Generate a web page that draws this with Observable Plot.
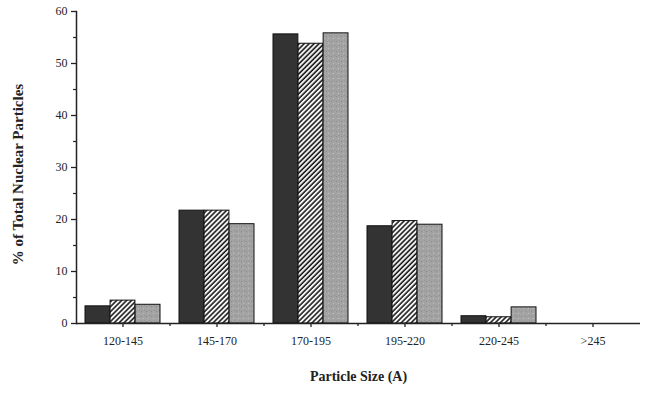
<!DOCTYPE html>
<html>
<head>
<meta charset="utf-8">
<script src="https://cdn.jsdelivr.net/npm/d3@7"></script>
<script src="https://cdn.jsdelivr.net/npm/@observablehq/plot@0.6"></script>
<style>
  html, body { margin: 0; padding: 0; background: #fff; }
</style>
</head>
<body>
<div id="chart"></div>
<script>
const categories = ["120-145", "145-170", "170-195", "195-220", "220-245", ">245"];
const seriesNames = ["dark", "hatched", "gray"];
const seriesDark = [3.3, 21.7, 55.6, 18.7, 1.4, 0];
const seriesHatched = [4.4, 21.7, 53.8, 19.7, 1.2, 0];
const seriesGray = [3.6, 19.1, 55.8, 19.0, 3.1, 0];
const yTicks = [0, 10, 20, 30, 40, 50, 60];
const yMinorTicks = [5, 15, 25, 35, 45, 55];
const yLabel = "% of Total Nuclear Particles";
const xLabel = "Particle Size (A)";

const W = 645, H = 394;
const mL = 76, mR = 5, mT = 11, mB = 71;
const padIn = 0.2, padOut = 0.1;
const step = (W - mL - mR) / (categories.length - padIn + 2 * padOut);
const bw = step * (1 - padIn);
const sub = bw / 3;

const seriesValues = [seriesDark, seriesHatched, seriesGray];
const fills = ["#333333", "url(#hatch)", "url(#stipple)"];

const barMarks = seriesValues.map((vals, i) =>
  Plot.barY(categories.map((c, j) => ({cat: c, v: vals[j]})), {
    x: "cat", y: "v",
    fill: fills[i], stroke: "#111", strokeWidth: 1,
    insetLeft: i * sub, insetRight: (2 - i) * sub
  })
);

const chart = Plot.plot({
  width: W, height: H,
  marginLeft: mL, marginRight: mR, marginTop: mT, marginBottom: mB,
  style: {fontFamily: "'Liberation Serif', 'Times New Roman', serif", fontSize: "12px", color: "#222", background: "#fff"},
  x: {type: "band", domain: categories, paddingInner: padIn, paddingOuter: padOut, axis: null},
  y: {domain: [0, 60], axis: null},
  marks: [
    ...barMarks,
    Plot.ruleY([0], {stroke: "#222", strokeWidth: 1.5}),
    Plot.frame({anchor: "left", stroke: "#222", strokeWidth: 1.5}),
    Plot.axisY(yTicks, {tickSize: 5, tickPadding: 4, label: null, stroke: "#222", strokeWidth: 1.3, fontSize: 12}),
    Plot.axisY(yMinorTicks, {tickSize: 3, tickFormat: () => "", label: null, stroke: "#222", strokeWidth: 1.2}),
    Plot.axisX(categories, {tickSize: 4, tickPadding: 9, label: null, stroke: "#222", strokeWidth: 1.3, fontSize: 12}),
    Plot.ruleX(categories.slice(0, -1), {x: d => d, dx: step / 2, y1: 0, y2: -0.6, stroke: "#222", strokeWidth: 1.3}),
    Plot.text([yLabel], {frameAnchor: "left", textAnchor: "middle", dx: -58, dy: 7, rotate: -90, fontWeight: "bold", fontSize: 15, fill: "#222"}),
    Plot.text([xLabel], {frameAnchor: "bottom", textAnchor: "middle", dy: 57, fontWeight: "bold", fontSize: 14, fill: "#222"})
  ]
});

const ns = "http://www.w3.org/2000/svg";
const defs = document.createElementNS(ns, "defs");
defs.innerHTML = `
  <pattern id="hatch" patternUnits="userSpaceOnUse" width="3.5" height="3.5" patternTransform="rotate(45)">
    <rect width="3.5" height="3.5" fill="#f4f4f4"></rect>
    <line x1="1" y1="0" x2="1" y2="3.5" stroke="#111" stroke-width="1.5"></line>
  </pattern>
  <pattern id="stipple" patternUnits="userSpaceOnUse" width="5" height="5">
    <rect width="5" height="5" fill="#a3a3a3"></rect>
    <rect x="1" y="1" width="1" height="1" fill="#8a8a8a"></rect>
    <rect x="3" y="3" width="1" height="1" fill="#bdbdbd"></rect>
    <rect x="4" y="0" width="1" height="1" fill="#939393"></rect>
  </pattern>`;
chart.insertBefore(defs, chart.firstChild);
document.getElementById("chart").appendChild(chart);
</script>
</body>
</html>
